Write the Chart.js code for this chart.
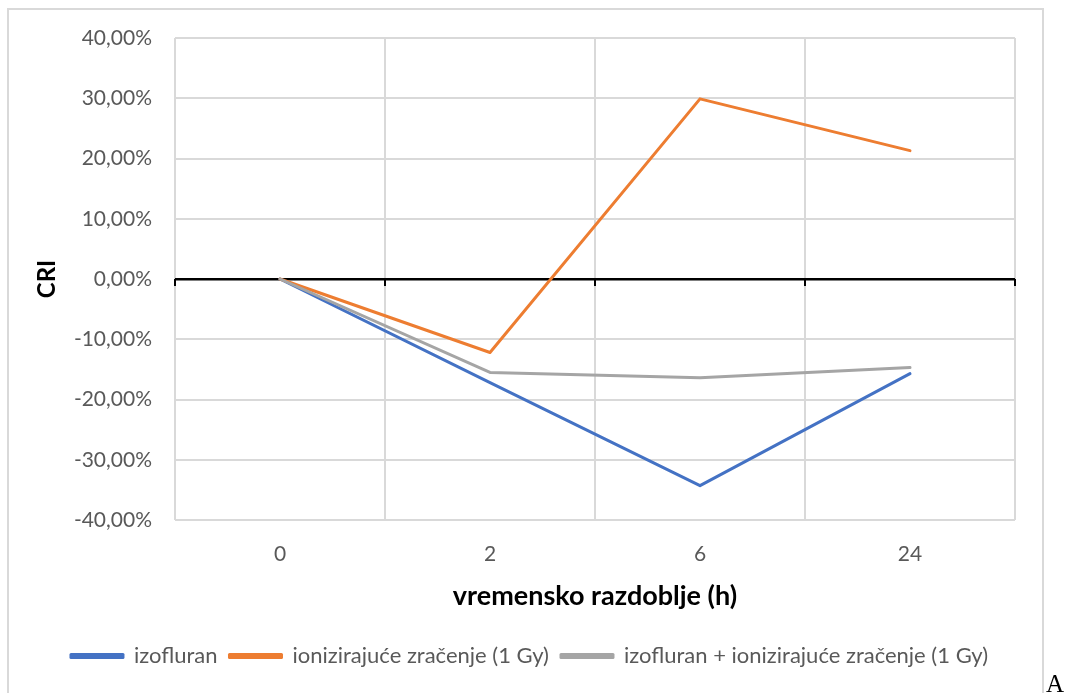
<!DOCTYPE html>
<html>
<head>
<meta charset="utf-8">
<script src="https://cdn.jsdelivr.net/npm/chart.js@4.4.1/dist/chart.umd.min.js"></script>
<style>
  html, body { margin: 0; padding: 0; background: #fff; overflow: hidden; }
  #frame {
    position: absolute; left: 7px; top: 8px; width: 1033px; height: 700px;
    border: 2px solid #d9d9d9; border-bottom: none;
  }
  #wrap { position: absolute; left: 0; top: 0; width: 1070px; height: 693px; }
  #mark {
    position: absolute; left: 1046px; top: 671px;
    font-family: "Liberation Serif", serif; font-size: 25px; line-height: 1; color: #000;
  }
</style>
</head>
<body>
<div id="frame"></div>
<div id="wrap"><canvas id="cri-chart" width="1070" height="693"></canvas></div>
<div id="mark">A</div>

<script>
// ---- data (CRI, %) ----
const categories = ['0', '2', '6', '24'];
const izofluran = [0, -17.2, -34.3, -15.7];
const zracenje = [0, -12.2, 29.9, 21.3];
const kombinacija = [0, -15.5, -16.4, -14.7];

const seriesNames = ['izofluran', 'ionizirajuće zračenje (1 Gy)', 'izofluran + ionizirajuće zračenje (1 Gy)'];
const seriesColors = ['#4472C4', '#ED7D31', '#A5A5A5'];

const yMin = -40;
const yMax = 40;
const yStep = 10;

function fmtPercent(v) {
  return v.toFixed(2).replace('.', ',') + '%';
}

function isZero(v) {
  return Math.abs(v) < 1e-9;
}

// small black tick marks hanging under the zero line, at category boundaries
const zeroTicks = {
  id: 'zeroTicks',
  beforeDatasetsDraw(chart) {
    const x = chart.scales.x;
    const y = chart.scales.y;
    const y0 = y.getPixelForValue(0);
    const c = chart.ctx;
    c.save();
    c.strokeStyle = '#000';
    c.lineWidth = 2;
    c.beginPath();
    for (let i = 0; i <= categories.length; i++) {
      const px = Math.round(x.getPixelForValue(i - 0.5));
      c.moveTo(px, y0);
      c.lineTo(px, y0 + 7);
    }
    c.stroke();
    c.restore();
  }
};

function makeSet(idx, data, order) {
  return {
    label: seriesNames[idx],
    data,
    borderColor: seriesColors[idx],
    backgroundColor: seriesColors[idx],
    borderWidth: 3,
    pointRadius: 0,
    pointHoverRadius: 0,
    tension: 0,
    borderJoinStyle: 'round',
    borderCapStyle: 'round',
    fill: false,
    order
  };
}

new Chart(document.getElementById('cri-chart'), {
  type: 'line',
  data: {
    labels: categories,
    datasets: [
      makeSet(0, izofluran, 3),
      makeSet(1, zracenje, 2),
      makeSet(2, kombinacija, 1)
    ]
  },
  plugins: [zeroTicks],
  options: {
    responsive: false,
    animation: false,
    devicePixelRatio: 1,
    layout: { padding: { left: 44, right: 55, top: 38, bottom: 16 } },
    plugins: {
      tooltip: { enabled: false },
      legend: {
        position: 'bottom',
        labels: {
          boxWidth: 52,
          boxHeight: 3,
          padding: 12,
          color: '#595959',
          font: { family: 'Lato', size: 22 },
          sort: (a, b) => a.datasetIndex - b.datasetIndex
        }
      }
    },
    scales: {
      x: {
        offset: true,
        afterFit(scale) { scale.height = 113; },
        border: { display: false },
        grid: {
          offset: true,
          drawTicks: false,
          color: '#d9d9d9',
          lineWidth: 2
        },
        ticks: {
          padding: 22,
          color: '#595959',
          font: { family: 'Lato', size: 21 }
        },
        title: {
          display: true,
          text: 'vremensko razdoblje (h)',
          color: '#000',
          font: { family: 'Lato', size: 27, weight: 'bold' },
          padding: { top: 0, bottom: 21 }
        }
      },
      y: {
        min: yMin,
        max: yMax,
        afterFit(scale) { scale.width = 131; },
        border: { display: false },
        grid: {
          drawTicks: false,
          color: (ctx) => (ctx.tick && isZero(ctx.tick.value)) ? '#000' : '#d9d9d9',
          lineWidth: (ctx) => (ctx.tick && isZero(ctx.tick.value)) ? 2.5 : 2
        },
        ticks: {
          stepSize: yStep,
          padding: 23,
          color: '#595959',
          font: { family: 'Lato', size: 21 },
          callback: (v) => fmtPercent(v)
        },
        title: {
          display: true,
          text: 'CRI',
          color: '#000',
          font: { family: 'Lato', size: 24, weight: 'bold' },
          padding: { top: -11, bottom: 0 }
        }
      }
    }
  }
});
</script>
</body>
</html>
